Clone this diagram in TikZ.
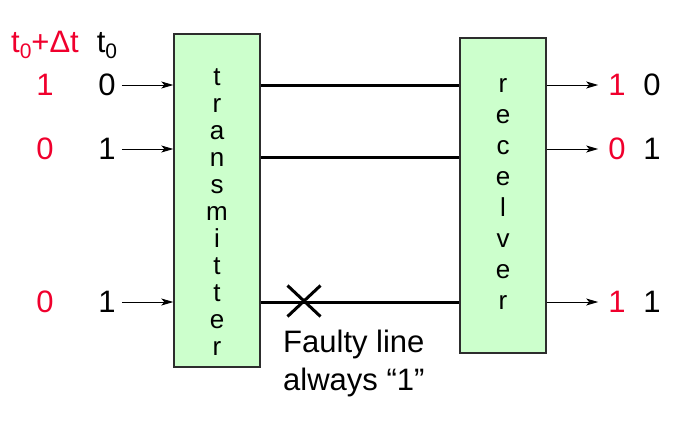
\documentclass[tikz,border=0pt]{standalone}
\usepackage{fontspec}
\setmainfont{Liberation Sans}
\usepackage{xcolor}
\usetikzlibrary{arrows.meta, shapes.misc}
\definecolor{sigred}{RGB}{240,0,45}
\definecolor{boxgreen}{RGB}{204,255,204}
\definecolor{boxline}{RGB}{45,45,45}
\newcommand{\lowsub}[1]{\raisebox{-6pt}{\fontsize{21}{21}\selectfont #1}}
\tikzset{
  unit/.style   = {rectangle, draw=boxline, line width=1.4pt, fill=boxgreen,
                   minimum width=86pt, inner sep=0pt},
  letters/.style = {align=center, inner sep=0pt, font=\fontsize{26}{27}\selectfont},
  lbl/.style    = {inner sep=0pt, anchor=base, font=\fontsize{31}{37}\selectfont},
  redlbl/.style = {lbl, text=sigred},
  arr/.style    = {-{Stealth[length=12pt, width=7pt, inset=3pt]}, line width=0.9pt},
  wire/.style   = {line width=3pt},
}
\begin{document}
\begin{tikzpicture}[x=1pt, y=-1pt]
  \useasboundingbox (0,0) rectangle (690,421);
  % boxes
  \node[unit, minimum height=333pt] (tx) at (217,200.5) {};
  \node[letters] (txt) at (217,212) {t\\r\\a\\n\\s\\m\\i\\t\\t\\e\\r};
  \node[unit, minimum height=315pt] (rx) at (503,195.5) {};
  \node[letters, font=\fontsize{26}{31}\selectfont] (rxt) at (503,194)
        {r\\e\\c\\e\\l\\v\\e\\r};
  % rows
  \coordinate (row1) at (0,85);  \coordinate (row2) at (0,149);
  \coordinate (row3) at (0,302); \coordinate (mid2) at (0,157);
  % input side
  \node[redlbl] (hdt) at (45,52) {t\lowsub{0}+Δt};
  \node[lbl]    (hd0) at (107,52) {t\lowsub{0}};
  \node[redlbl] (a1) at (45,95)  {1};  \node[lbl] (b1) at (107,95)  {0};
  \node[redlbl] (a2) at (45,159) {0};  \node[lbl] (b2) at (107,159) {1};
  \node[redlbl] (a3) at (45,312) {0};  \node[lbl] (b3) at (107,312) {1};
  \draw[arr, shorten <=6pt] (b1.east |- row1) -- (tx.west |- row1);
  \draw[arr, shorten <=6pt] (b2.east |- row2) -- (tx.west |- row2);
  \draw[arr, shorten <=6pt] (b3.east |- row3) -- (tx.west |- row3);
  % lines between the units
  \draw[wire] (tx.east |- row1) -- (rx.west |- row1);
  \draw[wire] (tx.east |- mid2) -- (rx.west |- mid2);
  \draw[wire] (tx.east |- row3) -- (rx.west |- row3);
  \node[cross out, draw, line width=3pt, minimum width=30pt, minimum height=28pt,
        inner sep=0pt] (fault) at (304,301) {};
  \node[inner sep=0pt, anchor=north west, align=left,
        font=\fontsize{31}{38}\selectfont] (note) at (283,330)
        {Faulty line\\always “1”};
  % output side
  \node[redlbl] (c1) at (617,95)  {1};  \node[lbl] (d1) at (652,95)  {0};
  \node[redlbl] (c2) at (617,159) {0};  \node[lbl] (d2) at (652,159) {1};
  \node[redlbl] (c3) at (617,312) {1};  \node[lbl] (d3) at (652,312) {1};
  \draw[arr, shorten >=10pt] (rx.east |- row1) -- (c1.west |- row1);
  \draw[arr, shorten >=10pt] (rx.east |- row2) -- (c2.west |- row2);
  \draw[arr, shorten >=10pt] (rx.east |- row3) -- (c3.west |- row3);
\end{tikzpicture}
\end{document}
